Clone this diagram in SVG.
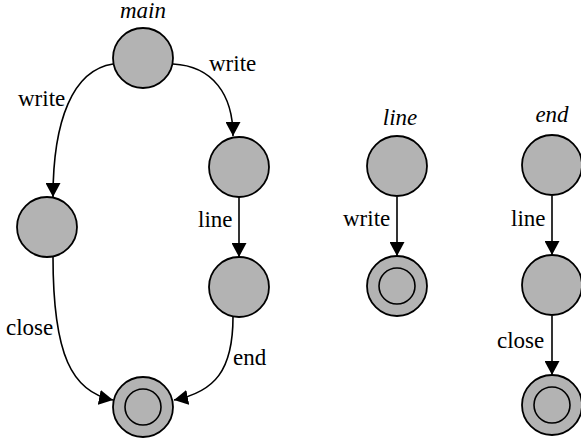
<svg xmlns="http://www.w3.org/2000/svg" width="581" height="442" viewBox="0 0 581 442">
<style>
.st{fill:#b3b3b3;stroke:#000;stroke-width:1.8}
.in{fill:none;stroke:#000;stroke-width:1.6}
.e{fill:none;stroke:#000;stroke-width:1.6;marker-end:url(#ah)}
.lb{font-size:23px;fill:#000}
.t{font-style:italic;text-anchor:middle}
</style>
<defs>
<marker id="ah" viewBox="0 0 14 15" refX="14" refY="7.5" markerWidth="14" markerHeight="15" markerUnits="userSpaceOnUse" orient="auto">
<path d="M0,0 L14,7.5 L0,15 z" fill="#000"/>
</marker>
</defs>
<rect width="581" height="442" fill="#fff"/>
<g id="titles">
<text class="lb t" style="font-family:'Liberation Serif',serif" x="143" y="18">main</text>
<text class="lb t" style="font-family:'Liberation Serif',serif" x="400" y="125">line</text>
<text class="lb t" style="font-family:'Liberation Serif',serif" x="552" y="122">end</text>
</g>
<g id="edge-labels">
<text class="lb" style="font-family:'Liberation Serif',serif" x="209" y="71">write</text>
<text class="lb" style="font-family:'Liberation Serif',serif" x="18" y="106">write</text>
<text class="lb" style="font-family:'Liberation Serif',serif" x="198" y="227">line</text>
<text class="lb" style="font-family:'Liberation Serif',serif" x="6" y="335">close</text>
<text class="lb" style="font-family:'Liberation Serif',serif" x="233" y="365">end</text>
<text class="lb" style="font-family:'Liberation Serif',serif" x="343" y="226">write</text>
<text class="lb" style="font-family:'Liberation Serif',serif" x="511" y="226">line</text>
<text class="lb" style="font-family:'Liberation Serif',serif" x="497" y="348">close</text>
</g>
<g id="connectors">
<path class="e" d="M173,64 C213,66 233,95 233,136"/>
<path class="e" d="M113,64 C73,70 53,120 53,197"/>
<path class="e" d="M239,197 L239,257"/>
<path class="e" d="M53,257 C53,355 72,392 113,400"/>
<path class="e" d="M233,317 C233,370 215,392 174,400"/>
<path class="e" d="M397,197 L397,256"/>
<path class="e" d="M552,196 L552,255"/>
<path class="e" d="M552,316 L552,375"/>
</g>
<g id="main-start"><circle class="st" cx="143" cy="58" r="30"/></g>
<g id="main-right1"><circle class="st" cx="239" cy="167" r="30"/></g>
<g id="main-right2"><circle class="st" cx="239" cy="287" r="30"/></g>
<g id="main-left"><circle class="st" cx="47" cy="227" r="30"/></g>
<g id="main-final"><circle class="st" cx="143" cy="407" r="30"/><circle class="in" cx="143" cy="407" r="18"/></g>
<g id="line-start"><circle class="st" cx="397" cy="166" r="30"/></g>
<g id="line-final"><circle class="st" cx="397" cy="286" r="30"/><circle class="in" cx="397" cy="286" r="18"/></g>
<g id="end-start"><circle class="st" cx="552" cy="165" r="30"/></g>
<g id="end-mid"><circle class="st" cx="552" cy="285" r="30"/></g>
<g id="end-final"><circle class="st" cx="552" cy="405" r="30"/><circle class="in" cx="552" cy="405" r="18"/></g>
</svg>
